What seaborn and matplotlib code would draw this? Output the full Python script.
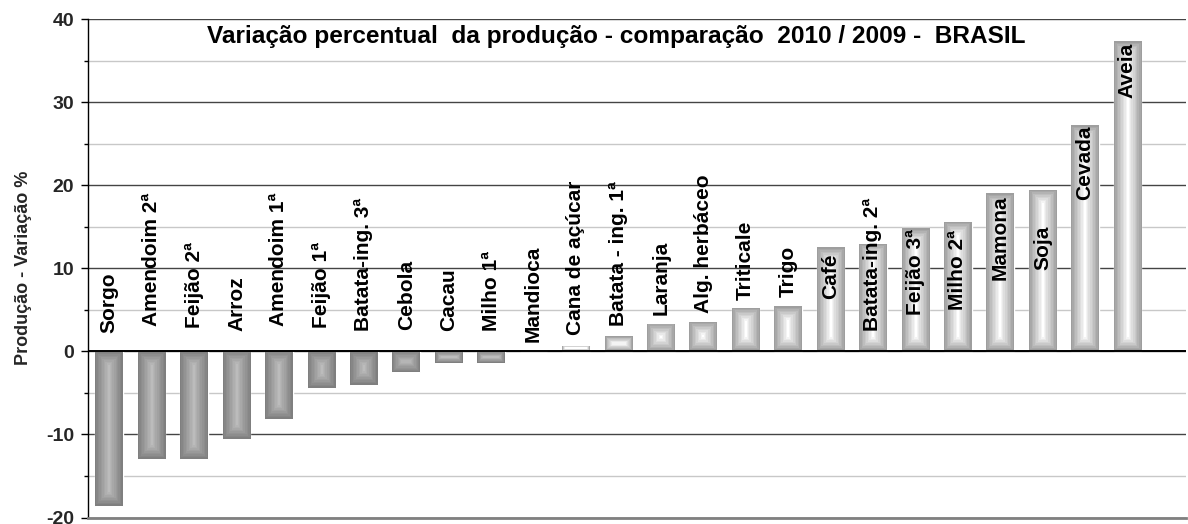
import numpy as np
import pandas as pd
import matplotlib
matplotlib.use("Agg")
import matplotlib.pyplot as plt
import seaborn as sns

# ---- data ----
categories = ["Sorgo", "Amendoim 2ª", "Feijão 2ª", "Arroz", "Amendoim 1ª", "Feijão 1ª",
              "Batata-ing. 3ª", "Cebola", "Cacau", "Milho 1ª", "Mandioca", "Cana de açúcar",
              "Batata - ing. 1ª", "Laranja", "Alg. herbáceo", "Triticale", "Trigo", "Café",
              "Batata-ing. 2ª", "Feijão 3ª", "Milho 2ª", "Mamona", "Soja", "Cevada", "Aveia"]
values = [-18.6, -12.9, -12.9, -10.6, -8.2, -4.4, -4.0, -2.45, -1.4, -1.4, 0.0, 0.7,
          1.8, 3.25, 3.5, 5.2, 5.4, 12.5, 12.9, 14.8, 15.6, 19.0, 19.4, 27.2, 37.3]
y_ticks = [-20, -10, 0, 10, 20, 30, 40]
title = "Variação percentual  da produção - comparação  2010 / 2009 -  BRASIL"
y_label = "Produção - Variação %"

# layout: where each category label starts (data units)
label_base = [2.2, 3.0, 2.85, 2.4, 3.0, 2.85, 2.4, 2.6, 2.4, 2.4, 1.1, 2.0, 3.0, 4.4,
              4.6, 6.2, 6.5, 6.3, 2.4, 4.4, 5.0, 8.6, 9.75, 18.2, 30.5]

sns.set_theme(style="white")
plt.rcParams['font.family'] = ['Liberation Sans', 'DejaVu Sans']
plt.rcParams['axes.unicode_minus'] = False

df = pd.DataFrame({"cat": categories, "val": values})

fig = plt.figure(figsize=(11.88, 5.24), dpi=100)
ax = fig.add_axes([88 / 1188, 1 - 517.5 / 524, (1186 - 88) / 1188, (517.5 - 19) / 524])

sns.barplot(data=df, x="cat", y="val", color="#999999", width=0.65, ax=ax,
            saturation=1, zorder=2)

xlim = (-0.5, 25.38)
ylim = (-20, 40)
ax.set_xlim(*xlim)
ax.set_ylim(*ylim)

# gradient fills clipped to each bar
fig.canvas.draw()
for patch, v in zip(ax.patches, values):
    x0, w = patch.get_x(), patch.get_width()
    y0, h = patch.get_y(), patch.get_height()
    if abs(h) < 1e-9:
        continue
    ya, yb = min(y0, y0 + h), max(y0, y0 + h)
    p0 = ax.transData.transform((x0, ya))
    p1 = ax.transData.transform((x0 + w, yb))
    wpx, hpx = abs(p1[0] - p0[0]), abs(p1[1] - p0[1])
    nx = max(int(wpx), 2)
    ny = max(int(hpx), 2)
    xs = (np.arange(nx) + 0.5) / nx * wpx
    ys = (np.arange(ny) + 0.5) / ny * hpx
    dx = np.minimum(xs, wpx - xs)[None, :]
    dy = np.minimum(ys, hpx - ys)[:, None]
    d = np.minimum(dx, dy)
    s = np.clip(d / (min(wpx, hpx) / 2), 0, 1)
    s = np.floor(s * 9) / 9
    if v < 0:
        edge, center = 0.50, 0.74
    else:
        edge, center = 0.62, 1.0
    g = edge + (center - edge) * s
    img = np.dstack([g, g, g])
    im = ax.imshow(img, extent=(x0, x0 + w, ya, yb), origin="lower",
                   aspect="auto", interpolation="nearest", zorder=3)
    im.set_clip_path(patch)

ax.set_xlim(*xlim)
ax.set_ylim(*ylim)

# grid
ax.set_yticks(y_ticks)
ax.set_yticks(np.arange(-15, 40, 10), minor=True)
ax.yaxis.grid(True, which="major", color="#444444", linewidth=1.0, zorder=0)
ax.yaxis.grid(True, which="minor", color="#c8c8c8", linewidth=1.0, zorder=0)
ax.xaxis.grid(False)
ax.set_axisbelow(True)
ax.axhline(0, color="black", linewidth=1.4, zorder=4)

for side in ["top", "right"]:
    ax.spines[side].set_visible(False)
ax.spines["left"].set_color("black")
ax.spines["left"].set_linewidth(1.0)
ax.spines["bottom"].set_color("#808080")
ax.spines["bottom"].set_linewidth(2.0)

ax.tick_params(axis="y", which="major", length=5, width=1, color="black",
               direction="out", left=True, labelsize=14, pad=5)
ax.tick_params(axis="y", which="minor", length=3, width=1, color="black",
               direction="out", left=True)
for lab in ax.get_yticklabels():
    lab.set_fontweight("bold")
ax.tick_params(axis="x", bottom=False, labelbottom=False)
ax.set_xlabel("")
ax.set_ylabel(y_label, fontsize=13, fontweight="bold", labelpad=10)

# category labels
for i, (cat, base) in enumerate(zip(categories, label_base)):
    ax.text(i, base, cat, rotation=90, ha="center", va="bottom",
            fontsize=15, fontweight="bold", color="black", zorder=6)

ax.text(0.481, 0.964, title, transform=ax.transAxes, ha="center", va="center",
        fontsize=17.6, fontweight="bold", color="black", zorder=6)

fig.savefig("out.png", dpi=100)
